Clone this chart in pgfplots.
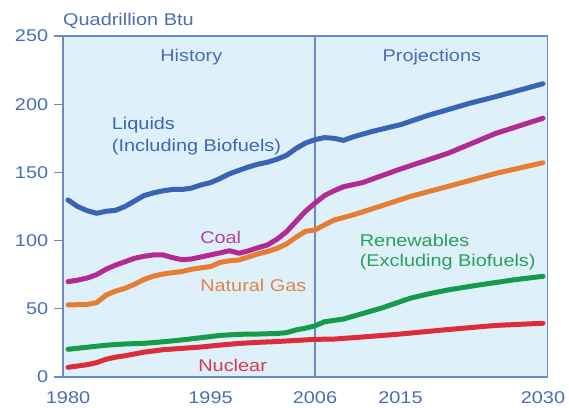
\documentclass[border=0pt]{standalone}
\usepackage{fontspec}
\setmainfont{Liberation Sans}[FakeStretch=1.17]
\usepackage{pgfplots}
\pgfplotsset{compat=1.18}
\definecolor{bg}{RGB}{222,241,251}
\definecolor{axcol}{RGB}{105,138,200}
\definecolor{lblcol}{RGB}{72,110,182}
\definecolor{cliq}{RGB}{55,100,180}
\definecolor{ccoal}{RGB}{178,42,148}
\definecolor{cgas}{RGB}{230,125,52}
\definecolor{cren}{RGB}{22,155,72}
\definecolor{cnuc}{RGB}{220,45,60}
\definecolor{tliq}{RGB}{62,102,182}
\definecolor{tcoal}{RGB}{188,62,160}
\definecolor{tgas}{RGB}{226,132,72}
\definecolor{tren}{RGB}{40,160,92}
\definecolor{tnuc}{RGB}{214,60,76}
\begin{document}
\fontsize{17bp}{20bp}\selectfont
\begin{tikzpicture}[font=\fontsize{17bp}{20bp}\selectfont]
\useasboundingbox (-63bp,-31bp) rectangle (506bp,377bp);
\begin{axis}[
  at={(0,0)}, anchor=south west,
  scale only axis, width=484.7bp, height=341bp,
  xmin=1979.47, xmax=2030.5, ymin=0, ymax=250,
  axis background/.style={fill=bg},
  axis line style={draw=axcol, line width=1.2bp},
  xtick={1980,1995,2006,2015,2030},
  xticklabels={1980,1995,2006,2015,2030},
  ytick={0,50,100,150,200,250},
  ytick pos=left, xtick pos=bottom, tick align=outside, major tick length=9bp,
  xtick style={draw=none},
  ytick style={draw=axcol, line width=1.2bp},
  tick label style={text=lblcol, font=\fontsize{17bp}{20bp}\selectfont},
  /pgf/number format/assume math mode=true,
  clip=false,
  every axis plot/.append style={line width=5bp, line join=round, line cap=round, mark=none},
]
\draw[axcol, line width=1.2bp] (axis cs:2006,0) -- (axis cs:2006,250);

% Nuclear
\addplot[cnuc] coordinates {
(1980,7.1)(1982,9)(1983,10.5)(1984,13)(1985,14.5)(1986,15.6)(1988,18.2)(1990,20)
(1992,21)(1994,22)(1996,23.4)(1998,24.6)(2000,25.4)(2002,26)(2004,26.8)(2006,27.6)
(2008,27.8)(2010,28.8)(2015,31.5)(2020,34.8)(2025,37.8)(2030,39.4)};
% Renewables
\addplot[cren] coordinates {
(1980,20.3)(1982,21.8)(1984,23.3)(1986,24.2)(1988,24.7)(1990,25.8)(1992,27.2)(1994,28.8)
(1996,30.5)(1998,31.3)(2000,31.5)(2002,31.9)(2003,32.5)(2004,34.5)(2005,35.8)(2006,37.5)
(2007,40.5)(2009,42.5)(2011,46.5)(2013,50.5)(2016,57.7)(2018,61)(2020,63.8)(2023,67.2)
(2027,71.3)(2030,73.8)};
% Natural gas
\addplot[cgas] coordinates {
(1980,52.8)(1981,53)(1982,53.2)(1983,54.5)(1984,60)(1985,63)(1986,65)(1987,68)(1988,71.5)
(1989,74)(1990,75.5)(1991,76.5)(1992,77.3)(1993,79)(1994,80)(1995,81)(1996,84)(1997,85.2)
(1998,85.8)(1999,88)(2000,90.3)(2001,92)(2002,94.3)(2003,97.5)(2004,102.5)(2005,106.8)
(2006,107.8)(2007,111.5)(2008,115)(2010,118.8)(2013,125.5)(2016,132.3)(2020,139.7)
(2025,149.2)(2030,157.1)};
% Coal
\addplot[ccoal] coordinates {
(1980,69.9)(1981,71)(1982,72.5)(1983,75)(1984,79)(1985,82)(1986,84.5)(1987,87)(1988,88.5)
(1989,89.5)(1990,89.5)(1991,87.5)(1992,86)(1993,86.5)(1994,88)(1995,89.5)(1996,91)
(1997,92.6)(1998,90.7)(1999,92.5)(2000,94.8)(2001,96.8)(2002,101)(2003,106.5)(2004,114)
(2005,121.5)(2006,127.5)(2007,133)(2008,136.5)(2009,139.5)(2011,142.5)(2015,152.5)
(2020,164)(2025,178.5)(2030,189.7)};
% Liquids
\addplot[cliq] coordinates {
(1980,129.8)(1981,125)(1982,122)(1983,120)(1984,121.5)(1985,122.2)(1986,125)(1987,129)
(1988,133)(1989,135)(1990,136.5)(1991,137.5)(1992,137.5)(1993,138.5)(1994,140.8)(1995,142.5)
(1996,145.5)(1997,149)(1998,151.5)(1999,154)(2000,156)(2001,157.5)(2002,159.6)(2003,162.5)
(2004,167.5)(2005,171.5)(2006,174)(2007,175.5)(2008,175)(2009,173.5)(2010,176)(2012,180)
(2015,185)(2018,192)(2020,196)(2022.3,200.7)(2025,205.5)(2030,215)};

\node[anchor=base west, text=lblcol, inner sep=0pt] at (axis cs:1989.7,231.4) {History};
\node[anchor=base west, text=lblcol, inner sep=0pt] at (axis cs:2013.1,231.4) {Projections};
\node[anchor=base west, text=tliq, inner sep=0pt] at (axis cs:1984.6,181.8) {Liquids};
\node[anchor=base west, text=tliq, inner sep=0pt] at (axis cs:1984.6,165.4) {(Including Biofuels)};
\node[anchor=base west, text=tcoal, inner sep=0pt] at (axis cs:1993.9,98) {Coal};
\node[anchor=base west, text=tgas, inner sep=0pt] at (axis cs:1993.9,63) {Natural Gas};
\node[anchor=base west, text=tren, inner sep=0pt] at (axis cs:2010.7,95.5) {Renewables};
\node[anchor=base west, text=tren, inner sep=0pt] at (axis cs:2010.7,81) {(Excluding Biofuels)};
\node[anchor=base west, text=tnuc, inner sep=0pt] at (axis cs:1993.7,3.9) {Nuclear};
\node[anchor=base west, text=lblcol, inner sep=0pt] at ([yshift=10.5bp]rel axis cs:0,1) {Quadrillion Btu};
\end{axis}
\end{tikzpicture}
\end{document}
